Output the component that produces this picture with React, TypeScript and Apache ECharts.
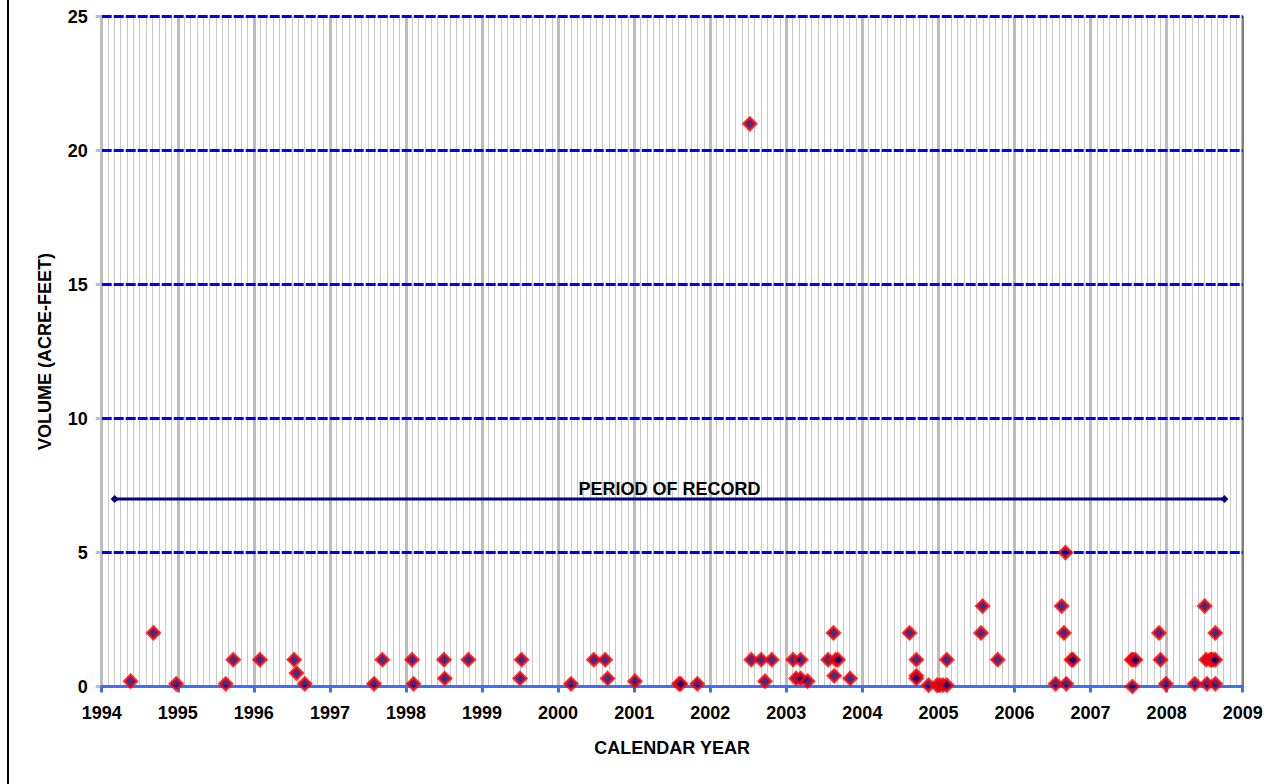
import React, { useEffect, useRef } from "react";
import * as echarts from "echarts";

const eventYears = [
  1994.38, 1994.68, 1994.98, 1995.63, 1995.73, 1996.08, 1996.53, 1996.56, 1996.67,
  1997.58, 1997.69, 1998.08, 1998.10, 1998.50, 1998.51, 1998.82,
  1999.52, 1999.50, 2000.17, 2000.47, 2000.62, 2000.65, 2001.01, 2001.59, 2001.61, 2001.83,
  2002.52, 2002.54, 2002.67, 2002.72, 2002.81,
  2003.09, 2003.19, 2003.13, 2003.19, 2003.28, 2003.55, 2003.62, 2003.63, 2003.65, 2003.68, 2003.84,
  2004.62, 2004.71, 2004.71, 2004.71, 2004.87, 2004.98, 2005.02, 2005.06, 2005.11, 2005.11,
  2005.56, 2005.58, 2005.78,
  2006.54, 2006.62, 2006.65, 2006.67, 2006.68, 2006.75, 2006.77,
  2007.54, 2007.56, 2007.59, 2007.55, 2007.90, 2007.92, 2007.99,
  2008.37, 2008.50, 2008.52, 2008.53, 2008.57, 2008.59, 2008.61, 2008.64, 2008.64, 2008.64,
];
const eventVolumes = [
  0.2, 2, 0.1, 0.1, 1, 1, 1, 0.5, 0.1,
  0.1, 1, 1, 0.1, 1, 0.3, 1,
  1, 0.3, 0.1, 1, 1, 0.3, 0.2, 0.1, 0.1, 0.1,
  21, 1, 1, 0.2, 1,
  1, 1, 0.3, 0.3, 0.2, 1, 2, 0.4, 1, 1, 0.3,
  2, 1, 0.4, 0.3, 0.05, 0.05, 0.05, 0.05, 0.05, 1,
  2, 3, 1,
  0.1, 3, 2, 5, 0.1, 1, 1,
  1, 1, 1, 0, 2, 1, 0.1,
  0.1, 3, 1, 0.1, 1, 1, 1, 2, 1, 0.1,
];
const periodYears = [1994.17, 2008.76];
const periodVolume = 7;
const periodLabel = "PERIOD OF RECORD";
const xMin = 1994;
const xMax = 2009;
const yMin = 0;
const yMax = 25;
const yInterval = 5;

const FONT = "Liberation Sans, Arial, sans-serif";

export default function App() {
  const ref = useRef<HTMLDivElement>(null);
  useEffect(() => {
    if (!ref.current) return;
    const chart = echarts.init(ref.current, undefined, { renderer: "svg" });
    const scatterData = eventYears.map((y, i) => [y, eventVolumes[i]]);
    const periodData = periodYears.map((y) => [y, periodVolume]);
    const mid = (periodYears[0] + periodYears[1]) / 2;
    chart.setOption({
      animation: false,
      backgroundColor: "#ffffff",
      grid: { left: 101.7, right: 32.3, top: 16.7, bottom: 97.5, containLabel: false },
      graphic: [
        {
          type: "line",
          shape: { x1: 8, y1: 0, x2: 8, y2: 784 },
          style: { stroke: "#000000", lineWidth: 2 },
          silent: true,
        },
      ],
      xAxis: [
        {
          type: "value",
          min: xMin,
          max: xMax,
          interval: 1,
          z: 0,
          axisLine: { show: false },
          axisTick: { show: false },
          axisLabel: {
            margin: 17,
            fontFamily: FONT,
            fontWeight: "bold",
            fontSize: 18,
            color: "#000",
            formatter: (v: number) => String(v),
          },
          splitLine: { show: true, lineStyle: { color: "#bcbcbc", width: 3 } },
          minorTick: { show: false, splitNumber: 12 },
          minorSplitLine: { show: true, lineStyle: { color: "#c8c8c8", width: 1 } },
          name: "CALENDAR YEAR",
          nameLocation: "middle",
          nameGap: 52,
          nameTextStyle: { fontFamily: FONT, fontWeight: "bold", fontSize: 18, color: "#000" },
        },
        {
          type: "value",
          position: "top",
          min: xMin,
          max: xMax,
          interval: 1,
          axisLine: { show: true, lineStyle: { color: "#6a6ae0", width: 2 } },
          axisTick: { show: false },
          axisLabel: { show: false },
          splitLine: { show: false },
        },
        {
          type: "value",
          position: "bottom",
          min: xMin,
          max: xMax,
          interval: 1,
          z: 5,
          axisLine: { show: true, onZero: false, lineStyle: { color: "#3f6ff5", width: 3 } },
          axisTick: { show: true, length: 6, lineStyle: { color: "#3f6ff5", width: 3 } },
          axisLabel: { show: false },
          splitLine: { show: false },
        },
      ],
      yAxis: [
        {
          type: "value",
          min: yMin,
          max: yMax,
          interval: yInterval,
          z: 1,
          axisLine: { show: false },
          axisTick: { show: true, length: 6, lineStyle: { color: "#c0c0c0", width: 3 } },
          axisLabel: {
            margin: 14,
            fontFamily: FONT,
            fontWeight: "bold",
            fontSize: 18,
            color: "#000",
          },
          splitLine: {
            show: true,
            showMinLine: false,
            lineStyle: { color: "#0000ff", width: 3, type: [10, 2] },
          },
          name: "VOLUME (ACRE-FEET)",
          nameLocation: "middle",
          nameGap: 48,
          nameRotate: 90,
          nameTextStyle: { fontFamily: FONT, fontWeight: "bold", fontSize: 18, color: "#000" },
        },
        {
          type: "value",
          position: "right",
          min: yMin,
          max: yMax,
          interval: yInterval,
          axisLine: { show: true, lineStyle: { color: "#808080", width: 2 } },
          axisTick: { show: false },
          axisLabel: { show: false },
          splitLine: { show: false },
        },
      ],
      series: [
        {
          type: "line",
          data: periodData,
          xAxisIndex: 0,
          yAxisIndex: 0,
          z: 3,
          symbol: "diamond",
          symbolSize: 8,
          showAllSymbol: true,
          lineStyle: { color: "#000080", width: 3 },
          itemStyle: { color: "#000080" },
          markPoint: {
            symbol: "circle",
            symbolSize: 0,
            itemStyle: { color: "rgba(0,0,0,0)" },
            label: {
              show: true,
              position: "top",
              distance: 1,
              formatter: periodLabel,
              fontFamily: FONT,
              fontWeight: "bold",
              fontSize: 18,
              color: "#000",
            },
            data: [{ coord: [mid, periodVolume] }],
          },
        },
        {
          type: "scatter",
          data: scatterData,
          xAxisIndex: 0,
          yAxisIndex: 0,
          z: 6,
          symbol: "diamond",
          symbolSize: 12,
          itemStyle: { color: "#000080", borderColor: "#ff0000", borderWidth: 3 },
        },
      ],
    });
    return () => chart.dispose();
  }, []);
  return (
    <div
      ref={ref}
      style={{ position: "absolute", left: 0, top: 0, width: 1275, height: 784 }}
    />
  );
}
